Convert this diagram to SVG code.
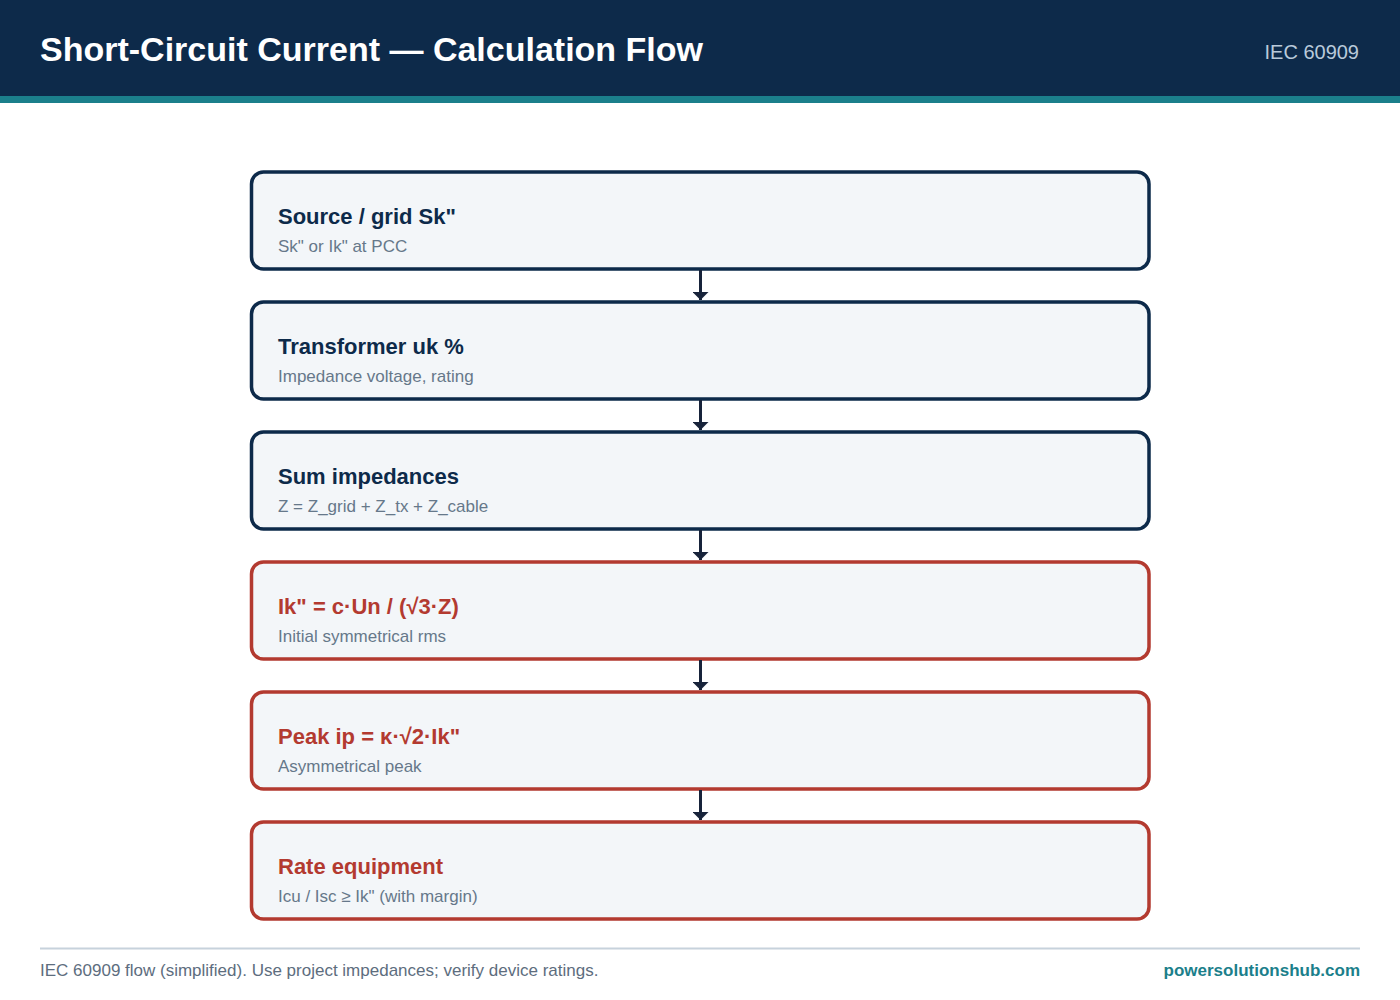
<svg xmlns="http://www.w3.org/2000/svg" width="1400" height="1000" viewBox="0 0 1400 1000">
<defs>
<marker id="ah" viewBox="0 0 8 16" refX="8" refY="8" markerWidth="8" markerHeight="16" markerUnits="userSpaceOnUse" orient="auto">
<path d="M0,0 L8,8 L0,16 Z" fill="#17233a"/>
</marker>
<style>
.node rect{fill:#f3f6f9;stroke-width:3.5}
.blue rect{stroke:#0d2a4a}
.red rect{stroke:#b33a30}
.t{font-family:"Liberation Sans",Arial,sans-serif;font-weight:bold;font-size:22px}
.blue .t{fill:#0d2a4a}
.red .t{fill:#b33a30}
.s{font-family:"Liberation Sans",Arial,sans-serif;font-size:17px;fill:#66788a}
.conn line{stroke:#17233a;stroke-width:3}
</style>
</defs>
<rect x="0" y="0" width="1400" height="1000" fill="#ffffff"/>
<g id="header">
<rect x="0" y="0" width="1400" height="96" fill="#0d2a4a"/>
<rect x="0" y="96" width="1400" height="7" fill="#1b7f8b"/>
<text x="40" y="61" font-family="Liberation Sans,Arial,sans-serif" font-weight="bold" font-size="34" fill="#ffffff">Short-Circuit Current — Calculation Flow</text>
<text x="1359" y="59" text-anchor="end" font-family="Liberation Sans,Arial,sans-serif" font-size="20" fill="#b9cadb">IEC 60909</text>
</g>
<g id="n1" class="node blue"><rect x="251.5" y="172" width="897.5" height="97" rx="12"/><text class="t" x="278" y="224">Source / grid Sk"</text><text class="s" x="278" y="252">Sk" or Ik" at PCC</text></g>
<g id="n2" class="node blue"><rect x="251.5" y="302" width="897.5" height="97" rx="12"/><text class="t" x="278" y="354">Transformer uk %</text><text class="s" x="278" y="382">Impedance voltage, rating</text></g>
<g id="n3" class="node blue"><rect x="251.5" y="432" width="897.5" height="97" rx="12"/><text class="t" x="278" y="484">Sum impedances</text><text class="s" x="278" y="512">Z = Z_grid + Z_tx + Z_cable</text></g>
<g id="n4" class="node red"><rect x="251.5" y="562" width="897.5" height="97" rx="12"/><text class="t" x="278" y="614">Ik" = c·Un / (√3·Z)</text><text class="s" x="278" y="642">Initial symmetrical rms</text></g>
<g id="n5" class="node red"><rect x="251.5" y="692" width="897.5" height="97" rx="12"/><text class="t" x="278" y="744">Peak ip = κ·√2·Ik"</text><text class="s" x="278" y="772">Asymmetrical peak</text></g>
<g id="n6" class="node red"><rect x="251.5" y="822" width="897.5" height="97" rx="12"/><text class="t" x="278" y="874">Rate equipment</text><text class="s" x="278" y="902">Icu / Isc ≥ Ik" (with margin)</text></g>
<g id="connectors" class="conn">
<line x1="700.5" y1="270" x2="700.5" y2="300" marker-end="url(#ah)"/>
<line x1="700.5" y1="400" x2="700.5" y2="430" marker-end="url(#ah)"/>
<line x1="700.5" y1="530" x2="700.5" y2="560" marker-end="url(#ah)"/>
<line x1="700.5" y1="660" x2="700.5" y2="690" marker-end="url(#ah)"/>
<line x1="700.5" y1="790" x2="700.5" y2="820" marker-end="url(#ah)"/>
</g>
<g id="footer">
<line x1="40" y1="948.5" x2="1360" y2="948.5" stroke="#c7d2dc" stroke-width="2"/>
<text x="40" y="976" font-family="Liberation Sans,Arial,sans-serif" font-size="17" fill="#5d6d7e">IEC 60909 flow (simplified). Use project impedances; verify device ratings.</text>
<text x="1360" y="976" text-anchor="end" font-family="Liberation Sans,Arial,sans-serif" font-weight="bold" font-size="17" fill="#1b7f8b">powersolutionshub.com</text>
</g>
</svg>
